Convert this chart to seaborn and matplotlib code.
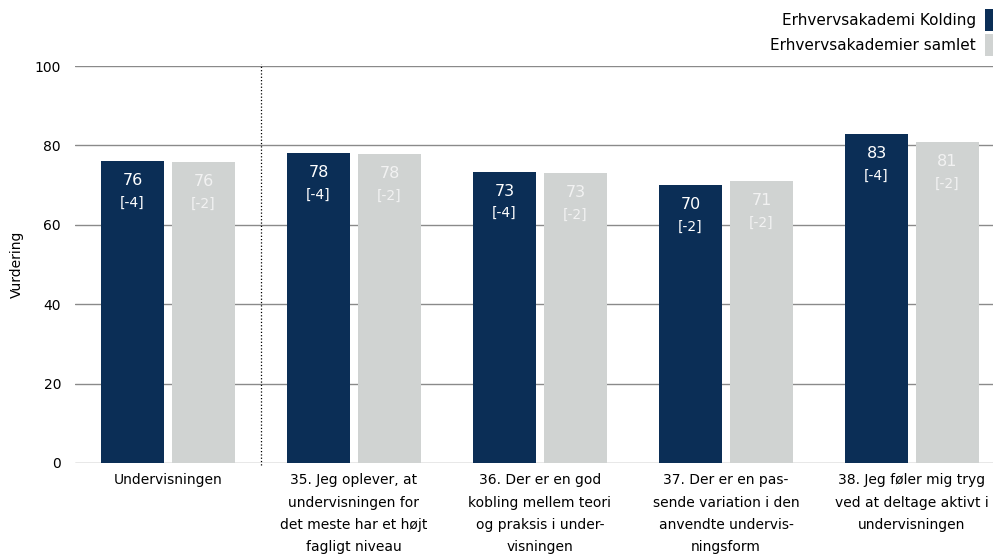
import matplotlib
matplotlib.use('Agg')
import matplotlib.pyplot as plt
from matplotlib.patches import Rectangle
import pandas as pd
import seaborn as sns

categories = [
    'Undervisningen',
    '35. Jeg oplever, at\nundervisningen for\ndet meste har et højt\nfagligt niveau',
    '36. Der er en god\nkobling mellem teori\nog praksis i under-\nvisningen',
    '37. Der er en pas-\nsende variation i den\nanvendte undervis-\nningsform',
    '38. Jeg føler mig tryg\nved at deltage aktivt i\nundervisningen',
]
series = ['Erhvervsakademi Kolding', 'Erhvervsakademier samlet']
kolding = [76.1, 78.1, 73.4, 70.0, 82.9]
samlet = [75.8, 77.8, 73.0, 71.0, 80.9]
kolding_diff = [-4, -4, -4, -2, -4]
samlet_diff = [-2, -2, -2, -2, -2]

colors = ['#0b2e56', '#d0d3d2']

df = pd.DataFrame({
    'kategori': categories * 2,
    'serie': [series[0]] * 5 + [series[1]] * 5,
    'vurdering': kolding + samlet,
    'diff': kolding_diff + samlet_diff,
})

sns.set_style('white')
plt.rcParams['font.family'] = ['DejaVu Sans']
plt.rcParams['text.color'] = 'black'
plt.rcParams['xtick.color'] = 'black'
plt.rcParams['ytick.color'] = 'black'
plt.rcParams['axes.labelcolor'] = 'black'

W, H = 993, 558
fig = plt.figure(figsize=(W / 100, H / 100), dpi=100)
ax = fig.add_axes([75 / W, 1 - 463 / H, 930 / W, 397 / H])

sns.barplot(data=df, x='kategori', y='vurdering', hue='serie',
            palette=colors, width=0.763, gap=0.1, ax=ax,
            legend=False, saturation=1, errorbar=None, linewidth=0)

ax.set_ylim(0, 100)
ax.set_xlim(-0.5, 4.5)
ax.set_yticks([0, 20, 40, 60, 80, 100])
ax.yaxis.grid(True, color='#8a8a8a', linewidth=1)
ax.set_axisbelow(True)
for s in ax.spines.values():
    s.set_visible(False)
ax.tick_params(axis='both', length=0, labelsize=10)
ax.tick_params(axis='x', pad=7.5)
ax.tick_params(axis='y', pad=10)
for lbl in ax.get_xticklabels():
    lbl.set_linespacing(1.75)
ax.set_xlabel('')
ax.set_ylabel('Vurdering', fontsize=10, labelpad=8)

ax.axvline(0.5, ymin=-0.005, ymax=1.005, color='black', linestyle=':',
           linewidth=0.9, clip_on=False)

text_cols = ['white', '#f2f2f2']
for i, (container, col) in enumerate(zip(ax.containers, text_cols)):
    sub = df[df['serie'] == series[i]]
    for bar, val, d in zip(container, sub['vurdering'], sub['diff']):
        cx = bar.get_x() + bar.get_width() / 2
        top = bar.get_height()
        ax.annotate(f'{val:.0f}', (cx, top), xytext=(0, -14),
                    textcoords='offset points', ha='center', va='center',
                    color=col, fontsize=11.5)
        ax.annotate(f'[{d}]', (cx, top), xytext=(0, -30),
                    textcoords='offset points', ha='center', va='center',
                    color=col, fontsize=10)

# legend, drawn by hand at the top right like the source
for i, (name, c) in enumerate(zip(series, colors)):
    yc = 1 - (20 + 25 * i) / H
    fig.text(976 / W, yc, name, ha='right', va='center', fontsize=11)
    fig.patches.append(Rectangle((985 / W, yc - 11 / H), 14 / W, 22 / H,
                                 transform=fig.transFigure, facecolor=c,
                                 edgecolor='none', figure=fig))

fig.savefig('out.png', dpi=100)
